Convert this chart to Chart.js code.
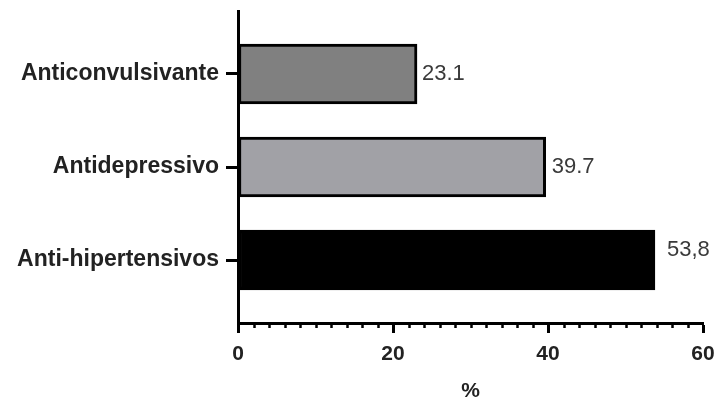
<!DOCTYPE html>
<html>
<head>
<meta charset="utf-8">
<script src="https://cdn.jsdelivr.net/npm/chart.js@4"></script>
<style>
  html, body { margin: 0; padding: 0; background: #fff; }
  #wrap { width: 716px; height: 400px; }
</style>
</head>
<body>
<div id="wrap"><canvas id="drugChart"></canvas></div>
<script>
// data
const categories = ['Anticonvulsivante', 'Antidepressivo', 'Anti-hipertensivos'];
const percents = [23.1, 39.7, 53.8];
const valueLabels = ['23.1', '39.7', '53,8'];
const xTicks = [0, 20, 40, 60];

// styling
const barColors = ['#808080', '#a1a1a6', '#000000'];
const labelShift = [[5, 0], [6, 0], [12, -10]];

// value labels next to each bar
const valueLabelPlugin = {
    id: 'valueLabels',
    afterDatasetsDraw(chart) {
        const ctx = chart.ctx;
        const meta = chart.getDatasetMeta(0);
        ctx.save();
        ctx.font = '22px "Liberation Sans", Arial, sans-serif';
        ctx.fillStyle = '#3a3a3a';
        ctx.textAlign = 'left';
        ctx.textBaseline = 'middle';
        meta.data.forEach((bar, i) => {
            ctx.fillText(valueLabels[i], bar.x + labelShift[i][0], bar.y + labelShift[i][1]);
        });
        ctx.restore();
    }
};

// short minor ticks every 2 units on the x axis
const minorTickPlugin = {
    id: 'minorTicks',
    afterDraw(chart) {
        const ctx = chart.ctx;
        const xs = chart.scales.x;
        const y0 = xs.top;
        ctx.save();
        ctx.strokeStyle = '#000';
        ctx.lineWidth = 2.5;
        for (let v = xs.min + 2; v < xs.max; v += 2) {
            if (v % 20 === 0) continue;
            const px = Math.round(xs.getPixelForValue(v)) + 0.5;
            ctx.beginPath();
            ctx.moveTo(px, y0);
            ctx.lineTo(px, y0 + 5);
            ctx.stroke();
        }
        ctx.restore();
    }
};

new Chart(document.getElementById('drugChart').getContext('2d'), {
    type: 'bar',
    data: {
        datasets: [{
            data: percents.map((p, i) => ({ x: p, y: i })),
            backgroundColor: barColors,
            borderColor: '#000',
            borderWidth: 3,
            borderSkipped: false,
            barThickness: 60
        }]
    },
    options: {
        indexAxis: 'y',
        responsive: true,
        maintainAspectRatio: false,
        animation: false,
        layout: { padding: { top: 11, right: 13, left: 0, bottom: 0 } },
        plugins: {
            legend: { display: false },
            tooltip: { enabled: false }
        },
        scales: {
            x: {
                type: 'linear',
                min: 0,
                max: 60,
                afterBuildTicks: (scale) => { scale.ticks = xTicks.map(v => ({ value: v })); },
                ticks: {
                    color: '#222',
                    padding: 9,
                    font: { family: '"Liberation Sans", Arial, sans-serif', size: 21, weight: 'bold' }
                },
                grid: {
                    drawOnChartArea: false,
                    drawTicks: true,
                    tickLength: 10,
                    tickWidth: 3,
                    tickColor: '#000'
                },
                border: { display: true, color: '#000', width: 3 },
                title: {
                    display: true,
                    text: '%',
                    color: '#222',
                    padding: 0,
                    font: { family: '"Liberation Sans", Arial, sans-serif', size: 21, weight: 'bold', lineHeight: 0.85 }
                },
                afterFit: (scale) => {
                    scale.height = 77;
                    scale.paddingLeft = 0;
                    scale.paddingRight = 0;
                }
            },
            y: {
                type: 'linear',
                reverse: true,
                offset: false,
                min: -0.677,
                max: 2.677,
                afterBuildTicks: (scale) => { scale.ticks = categories.map((c, i) => ({ value: i })); },
                ticks: {
                    color: '#222',
                    padding: 7,
                    callback: (v) => categories[v],
                    font: { family: '"Liberation Sans", Arial, sans-serif', size: 23, weight: 'bold' }
                },
                grid: {
                    offset: false,
                    drawOnChartArea: false,
                    drawTicks: true,
                    tickLength: 12,
                    tickWidth: 3,
                    tickColor: '#000'
                },
                border: { display: true, color: '#000', width: 3 },
                afterFit: (scale) => {
                    scale.width = 238;
                    scale.paddingTop = 0;
                    scale.paddingBottom = 0;
                }
            }
        }
    },
    plugins: [valueLabelPlugin, minorTickPlugin]
});
</script>
</body>
</html>
